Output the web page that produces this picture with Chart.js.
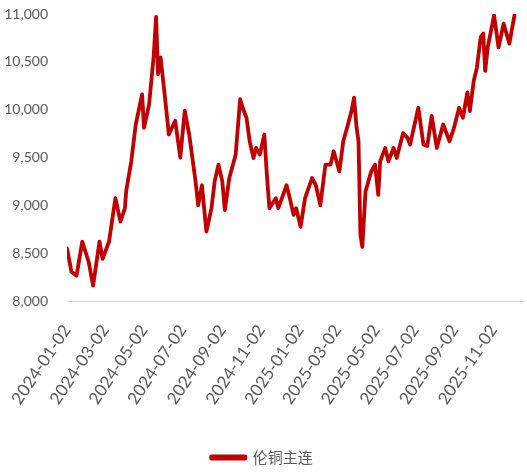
<!DOCTYPE html>
<html>
<head>
<meta charset="utf-8">
<script src="https://cdn.jsdelivr.net/npm/chart.js@4/dist/chart.umd.min.js"></script>
<style>
  html, body { margin: 0; padding: 0; background: #ffffff; }
  #wrap { width: 527px; height: 475px; position: relative; }
</style>
</head>
<body>
<div id="wrap"><canvas id="c"></canvas></div>
<script>
const seriesName = '伦铜主连';
const dates = [
  '2024-01-02','2024-01-09','2024-01-17','2024-01-26','2024-02-05','2024-02-12','2024-02-22','2024-02-27',
  '2024-03-08','2024-03-18','2024-03-26','2024-04-02','2024-04-04','2024-04-12','2024-04-19','2024-04-29',
  '2024-05-02','2024-05-10','2024-05-17','2024-05-21','2024-05-24','2024-05-28','2024-06-04','2024-06-10',
  '2024-06-20','2024-06-28','2024-07-05','2024-07-12','2024-07-22','2024-07-26','2024-08-01','2024-08-08',
  '2024-08-16','2024-08-21','2024-08-27','2024-09-02','2024-09-06','2024-09-13','2024-09-23','2024-09-30',
  '2024-10-04','2024-10-10','2024-10-15','2024-10-21','2024-10-25','2024-10-31','2024-11-07','2024-11-11',
  '2024-11-15','2024-11-25','2024-11-29','2024-12-12','2024-12-17','2024-12-23','2024-12-27','2025-01-03',
  '2025-01-10','2025-01-21','2025-01-27','2025-02-03','2025-02-11','2025-02-19','2025-02-24','2025-03-05',
  '2025-03-11','2025-03-17','2025-03-24','2025-03-28','2025-04-01','2025-04-04','2025-04-07','2025-04-10',
  '2025-04-15','2025-04-24','2025-04-30','2025-05-05','2025-05-08','2025-05-16','2025-05-21','2025-05-29',
  '2025-06-03','2025-06-13','2025-06-20','2025-06-24','2025-07-07','2025-07-15','2025-07-21','2025-07-28',
  '2025-08-05','2025-08-15','2025-08-25','2025-09-01','2025-09-09','2025-09-15','2025-09-22','2025-09-26',
  '2025-10-02','2025-10-07','2025-10-13','2025-10-17','2025-10-20','2025-10-24','2025-11-03','2025-11-10',
  '2025-11-18','2025-11-27','2025-12-05'
];
const values = [
  8550,8305,8265,8620,8410,8160,8620,8440,
  8620,9075,8830,8970,9150,9460,9845,10160,
  9810,10055,10547,10970,10370,10547,10125,9740,
  9885,9500,9990,9740,9250,9000,9210,8725,
  8970,9250,9425,9250,8950,9285,9530,10110,
  10020,9915,9670,9495,9600,9530,9740,9320,
  8970,9075,8970,9210,9075,8900,8970,8775,
  9075,9285,9210,9000,9425,9425,9565,9355,
  9670,9810,9985,10125,9810,9670,8690,8565,
  9145,9355,9425,9110,9460,9600,9460,9600,
  9495,9755,9705,9635,10020,9635,9620,9935,
  9600,9845,9670,9810,10020,9915,10180,9985,
  10300,10440,10760,10795,10405,10650,10985,10650,
  10900,10690,10985
];
const tickLabels = [
  '2024-01-02','2024-03-02','2024-05-02','2024-07-02','2024-09-02','2024-11-02',
  '2025-01-02','2025-03-02','2025-05-02','2025-07-02','2025-09-02','2025-11-02'
];
const yMin = 8000, yMax = 11000, yStep = 500;

function dayOf(s) {
  const p = s.split('-').map(Number);
  return (Date.UTC(p[0], p[1] - 1, p[2]) - Date.UTC(2024, 0, 2)) / 86400000;
}
const points = dates.map((d, i) => ({ x: dayOf(d), y: values[i] }));
const tickDays = tickLabels.map(dayOf);

const FONT = "Lato, sans-serif";
const CJK = "'Noto Sans CJK SC', sans-serif";
const GREY = '#595959';

new Chart(document.getElementById('c'), {
  type: 'line',
  data: {
    datasets: [{
      label: seriesName,
      data: points,
      borderColor: '#C00000',
      backgroundColor: '#C00000',
      borderWidth: 3.8,
      pointRadius: 0,
      tension: 0,
      borderJoinStyle: 'round',
      borderCapStyle: 'round'
    }]
  },
  options: {
    responsive: true,
    maintainAspectRatio: false,
    animation: false,
    layout: { padding: { left: 0, right: 3, top: 0, bottom: 0 } },
    scales: {
      x: {
        type: 'linear',
        min: 0,
        max: 718,
        afterBuildTicks: (axis) => { axis.ticks = tickDays.map(v => ({ value: v })); },
        afterFit: (axis) => { axis.paddingLeft = 0; axis.paddingRight = 0; axis.height = 148; },
        ticks: {
          autoSkip: false,
          minRotation: 56,
          maxRotation: 56,
          color: GREY,
          font: { family: FONT, size: 17 },
          padding: 20,
          callback: (v, i) => tickLabels[i]
        },
        grid: { display: false, drawTicks: false },
        border: { display: true, color: '#D9D9D9', width: 1 }
      },
      y: {
        min: yMin,
        max: yMax,
        afterFit: (axis) => { axis.width = 67; axis.paddingTop = 14; axis.paddingBottom = 0; },
        ticks: {
          stepSize: yStep,
          color: GREY,
          font: { family: FONT, size: 14 },
          padding: 19,
          callback: (v) => v.toLocaleString('en-US')
        },
        grid: { display: false, drawTicks: false },
        border: { display: false }
      }
    },
    plugins: {
      legend: {
        position: 'bottom',
        labels: {
          color: GREY,
          font: { family: CJK, size: 15 },
          boxWidth: 34,
          boxHeight: 2,
          padding: 1
        }
      },
      tooltip: { enabled: false }
    }
  }
});
</script>
</body>
</html>
